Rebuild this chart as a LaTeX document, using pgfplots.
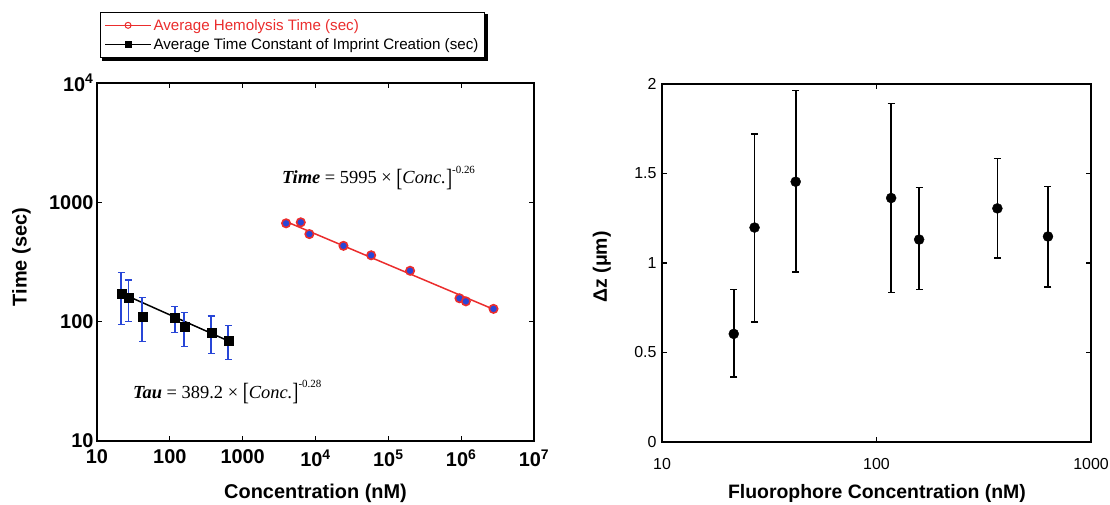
\documentclass[border=0pt]{standalone}
\usepackage{graphicx}
\usepackage{pgfplots}
\pgfplotsset{compat=1.18}
\usepackage{fontspec}
\setmainfont{Liberation Sans}
\newfontfamily\serif{Liberation Serif}
\definecolor{hred}{RGB}{235,45,45}
\definecolor{eblue}{RGB}{40,70,215}

\begin{document}
\begin{tikzpicture}[x=1bp,y=1bp]
\path[use as bounding box] (0,0) rectangle (1110,505);
\begin{axis}[
  at={(97bp,64bp)}, anchor=south west, scale only axis,
  width=437bp, height=358bp,
  xmode=log, ymode=log, xmin=10, xmax=1e7, ymin=10, ymax=1e4,
  xminorticks=false, yminorticks=false,
  xtick={10,100,1000,1e4,1e5,1e6,1e7},
  xticklabels={10,100,1000,10\textsuperscript{4},10\textsuperscript{5},10\textsuperscript{6},10\textsuperscript{7}},
  ytick={10,100,1000,1e4},
  yticklabels={10,100,1000,10\textsuperscript{4}},
  tick label style={font=\fontsize{20}{20}\selectfont\bfseries},
  xticklabel style={yshift=-5bp},
  axis line style={line width=1.2bp},
  major tick length=5bp, tick style={line width=1.2bp, black},
  xlabel={Concentration (nM)}, ylabel={Time (sec)},
  label style={font=\fontsize{20}{20}\selectfont\bfseries},
  xlabel style={at={(axis description cs:0.5,-0.145)}, anchor=center},
  ylabel style={at={(axis description cs:-0.173,0.514)}, anchor=center},
  legend cell align=left,
  legend style={name=leg, at={(0.007,1.198)}, anchor=north west, draw=black, line width=1bp,
    font=\fontsize{15.2}{16}\selectfont,
    inner xsep=4bp, inner ysep=4.5bp, row sep=2.5bp},
  legend image code/.code={\draw[mark repeat=2,mark phase=2,#1] plot coordinates {(0bp,0bp) (23bp,0bp) (46bp,0bp)};},
]
\addlegendimage{hred, line width=1bp, mark=o, mark size=3bp, mark options={solid, fill=white}}
\addlegendentry{\textcolor{hred}{Average Hemolysis Time (sec)}}
\addlegendimage{black, line width=1bp, mark=square*, mark size=3bp}
\addlegendentry{Average Time Constant of Imprint Creation (sec)}

\addplot[black, line width=1.5bp, forget plot] coordinates {(21.6,173) (635,69)};
\addplot[only marks, mark=square*, mark size=4.5bp, black, forget plot,
  error bars/.cd, y dir=both, y explicit,
  error bar style={eblue, line width=1.8bp},
  error mark options={eblue, rotate=90, mark size=3.5bp, line width=1.6bp}]
  coordinates {
  (21.6,173) += (0,85) -= (0,78)
  (27,160) += (0,64) -= (0,60)
  (42,111) += (0,49) -= (0,43)
  (117,107) += (0,27) -= (0,26)
  (158,91) += (0,28) -= (0,29)
  (370,81) += (0,31) -= (0,27)
  (635,69) += (0,24) -= (0,21)
  };

\addplot[hred, line width=1.5bp, forget plot] coordinates {(3945,690) (2.78e6,127)};
\addplot[only marks, mark=*, mark size=4.2bp, forget plot,
  mark options={draw=hred, fill=eblue, line width=1.6bp}]
  coordinates {
  (3945,667) (6280,680) (8240,542) (24200,432) (58100,360)
  (199000,267) (948000,157) (1.16e6,148) (2.78e6,128)
  };

\node[anchor=base west, font=\serif\fontsize{18.5}{18}\selectfont, inner sep=0]
  at (rel axis cs:0.423,0.718)
  {{\bfseries\itshape Time} = 5995 × \raisebox{-0.12em}{\scalebox{1}[1.35]{[}}\textit{Conc.}\raisebox{-0.12em}{\scalebox{1}[1.35]{]}}\raisebox{1.25ex}{\fontsize{11}{11}\selectfont -0.26}};
\node[anchor=base west, font=\serif\fontsize{18.5}{18}\selectfont, inner sep=0]
  at (rel axis cs:0.082,0.120)
  {{\bfseries\itshape Tau} = 389.2 × \raisebox{-0.12em}{\scalebox{1}[1.35]{[}}\textit{Conc.}\raisebox{-0.12em}{\scalebox{1}[1.35]{]}}\raisebox{1.25ex}{\fontsize{11}{11}\selectfont -0.28}};
\end{axis}
\fill[black] ([xshift=2bp,yshift=-3bp]leg.south west) rectangle ([xshift=3bp]leg.south east);
\fill[black] ([yshift=-3bp]leg.south east) rectangle ([xshift=3bp,yshift=-2bp]leg.north east);

\begin{axis}[
  at={(662bp,63bp)}, anchor=south west, scale only axis,
  width=429bp, height=358bp,
  xmode=log, xmin=10, xmax=1000, ymin=0, ymax=2,
  xminorticks=false,
  xtick={10,100,1000}, xticklabels={10,100,1000},
  ytick={0,0.5,1,1.5,2}, yticklabels={0,0.5,1,1.5,2},
  tick label style={font=\fontsize{16}{16}\selectfont},
  axis line style={line width=1.2bp},
  major tick length=5bp, tick style={line width=1.2bp, black},
  xticklabel style={yshift=-13bp},
  yticklabel style={xshift=-2bp},
  xlabel={Fluorophore Concentration (nM)}, ylabel={Δz (μm)},
  label style={font=\fontsize{19.5}{20}\selectfont\bfseries},
  xlabel style={at={(axis description cs:0.501,-0.145)}, anchor=center},
  ylabel style={at={(axis description cs:-0.14,0.489)}, anchor=center},
]
\addplot[only marks, mark=*, mark size=5bp, black,
  error bars/.cd, y dir=both, y explicit,
  error bar style={black, line width=1.6bp},
  error mark options={black, rotate=90, mark size=3.5bp, line width=1.5bp}]
  coordinates {
  (21.6,0.604) += (0,0.247) -= (0,0.242)
  (27,1.198) += (0,0.523) -= (0,0.529)
  (42,1.454) += (0,0.509) -= (0,0.503)
  (117,1.363) += (0,0.529) -= (0,0.527)
  (158,1.131) += (0,0.290) -= (0,0.280)
  (366,1.305) += (0,0.279) -= (0,0.276)
  (630,1.148) += (0,0.278) -= (0,0.281)
  };
\end{axis}
\end{tikzpicture}
\end{document}
